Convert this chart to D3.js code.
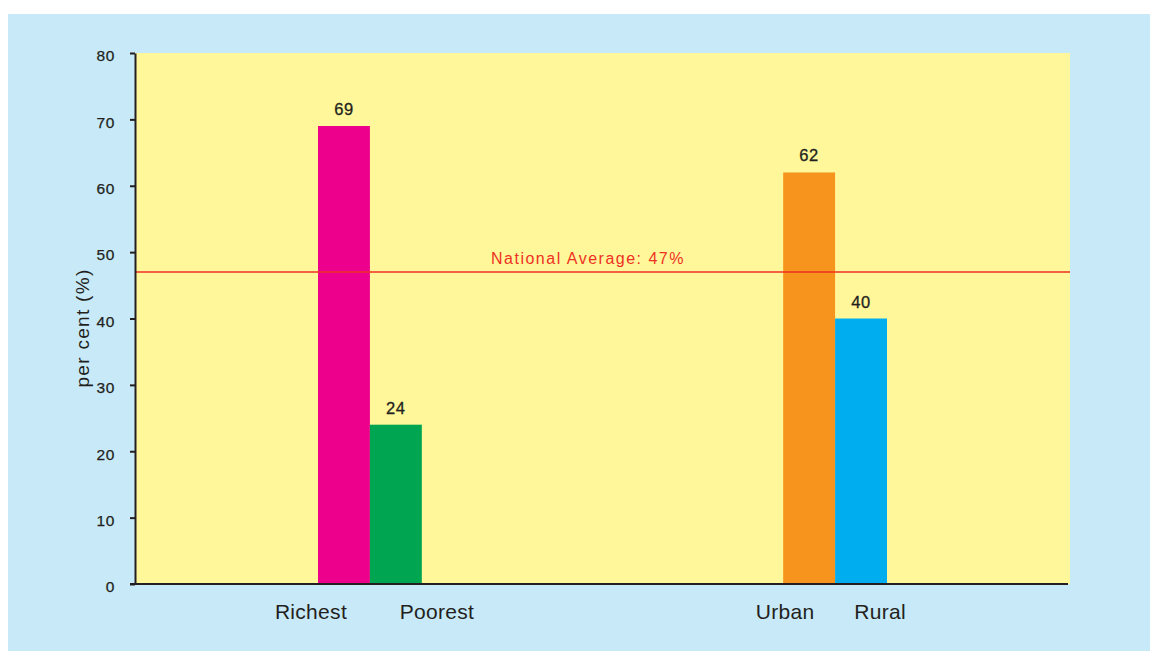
<!DOCTYPE html>
<html lang="en">
<head>
    <meta charset="UTF-8">
    <title>Chart</title>
    <style>
        body { margin: 0; background: #ffffff; }
        text { font-family: "Liberation Sans", Arial, sans-serif; fill: #231f20; }
    </style>
</head>
<body>
    <svg width="1150" height="651" id="svg"></svg>
    <script src="https://d3js.org/d3.v7.min.js"></script>
    <script>
        // data
        let groups = ["wealth", "location"]
        let categories = ["Richest", "Poorest", "Urban", "Rural"]
        let categoryGroup = ["wealth", "wealth", "location", "location"]
        let values = [69, 24, 62, 40]
        let barColors = ["#ec008c", "#00a551", "#f7941d", "#00aeef"]
        let yTicks = [0, 10, 20, 30, 40, 50, 60, 70, 80]
        let nationalAverage = 47

        // layout (not data)
        let labelNudge = [-33, 41, -24, 19]

        var svg = d3.select("svg")
        var plot = { left: 135, right: 1070, top: 53, bottom: 584 }

        var data = categories.map(function (c, i) {
            return { cat: c, group: categoryGroup[i], idx: i % 2, value: values[i], color: barColors[i] }
        })

        var xGroup = d3.scaleBand().domain(groups).range([plot.left, plot.right]).paddingInner(0).paddingOuter(0.005)
        var xInner = d3.scaleBand().domain([0, 1]).range([0, xGroup.bandwidth()]).paddingInner(0).paddingOuter(3.48)
        var yScale = d3.scaleLinear().domain([0, 80]).range([plot.bottom, plot.top])

        // outer blue panel
        svg.append("rect")
            .attr("x", 8).attr("y", 14)
            .attr("width", 1142).attr("height", 637)
            .attr("fill", "#c7e9f8")

        // yellow plot area
        svg.append("rect")
            .attr("x", plot.left).attr("y", plot.top)
            .attr("width", plot.right - plot.left).attr("height", plot.bottom - plot.top)
            .attr("fill", "#fff799")

        // bars
        svg.selectAll(".bar")
            .data(data)
            .enter()
            .append("rect")
            .attr("class", "bar")
            .attr("x", function (d) { return xGroup(d.group) + xInner(d.idx) })
            .attr("y", function (d) { return yScale(d.value) })
            .attr("width", xInner.bandwidth())
            .attr("height", function (d) { return yScale(0) - yScale(d.value) })
            .attr("fill", function (d) { return d.color })

        // value labels
        svg.selectAll(".val")
            .data(data)
            .enter()
            .append("text")
            .attr("class", "val")
            .attr("x", function (d) { return xGroup(d.group) + xInner(d.idx) + xInner.bandwidth() / 2 })
            .attr("y", function (d) { return yScale(d.value) - 11 })
            .attr("text-anchor", "middle")
            .style("font-size", "16.5px")
            .style("letter-spacing", "0.6px")
            .style("stroke", "#231f20")
            .style("stroke-width", "0.3px")
            .text(function (d) { return d.value })

        // national average line
        svg.append("line")
            .attr("x1", plot.left).attr("x2", plot.right)
            .attr("y1", yScale(nationalAverage)).attr("y2", yScale(nationalAverage))
            .attr("stroke", "#ee3124")
            .attr("stroke-width", 1.6)

        svg.append("text")
            .attr("x", 588)
            .attr("y", yScale(nationalAverage) - 8)
            .attr("text-anchor", "middle")
            .style("font-size", "16px")
            .style("letter-spacing", "1.5px")
            .style("fill", "#ee3124")
            .text("National Average: " + nationalAverage + "%")

        // y axis
        var yAxis = svg.append("g")
            .attr("transform", "translate(" + plot.left + ",0)")
            .call(d3.axisLeft(yScale).tickValues(yTicks).tickSize(5).tickSizeOuter(0).tickPadding(15))
        yAxis.select(".domain").attr("stroke", "#231f20").attr("stroke-width", 2)
        yAxis.selectAll(".tick line").attr("stroke", "#231f20").attr("stroke-width", 2)
        yAxis.selectAll(".tick text")
            .attr("dy", "0.5em")
            .style("font-size", "15.5px")
            .style("font-family", "'Liberation Sans', Arial, sans-serif")
            .style("letter-spacing", "0.6px")
            .style("fill", "#231f20")
            .style("stroke", "#231f20")
            .style("stroke-width", "0.25px")

        // x axis baseline
        svg.append("line")
            .attr("x1", plot.left - 5).attr("x2", plot.right - 2)
            .attr("y1", yScale(0)).attr("y2", yScale(0))
            .attr("stroke", "#231f20")
            .attr("stroke-width", 2)

        // category labels
        svg.selectAll(".cat")
            .data(data)
            .enter()
            .append("text")
            .attr("class", "cat")
            .attr("x", function (d, i) { return xGroup(d.group) + xInner(d.idx) + xInner.bandwidth() / 2 + labelNudge[i] })
            .attr("y", 619)
            .attr("text-anchor", "middle")
            .style("font-size", "21px")
            .style("letter-spacing", "0.3px")
            .text(function (d) { return d.cat })

        // y axis title
        svg.append("text")
            .attr("transform", "translate(89,328) rotate(-90)")
            .attr("text-anchor", "middle")
            .style("font-size", "19px")
            .style("letter-spacing", "1.3px")
            .text("per cent (%)")
    </script>
</body>
</html>
